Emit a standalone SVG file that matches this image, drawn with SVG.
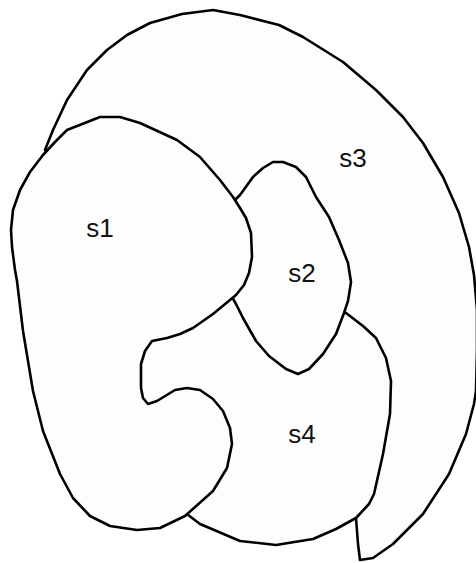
<svg xmlns="http://www.w3.org/2000/svg" width="476" height="563" viewBox="0 0 476 563">
<style>
.set{fill:#fdfdfb;stroke:#000;stroke-width:2.6;stroke-linejoin:round}
.lbl{font-family:"Liberation Sans",Arial,sans-serif;font-size:26px;fill:#111;text-anchor:middle}
</style>
<rect width="476" height="563" fill="#fff"/>
<g id="s3">
<path class="set" d="M60,165 L45,150 L53,130 L67,100 L87,70 L107,50 L127,35 L150,23 L182,14 L213,10 L240,15 L279,25 L303,37 L343,62 L376,90 L403,117 L423,143 L443,177 L459,213 L469,247 L474,275 L477,310 L477,350 L476,391 L474,404 L466,434 L449,474 L423,514 L393,544 L373,558 L360,560 L358,544 L356,518 L350,470 L300,400 L260,340 L220,270 L120,200 Z"/>
<text class="lbl" x="353" y="167">s3</text>
</g>
<g id="s4">
<path class="set" d="M175,505 L200,524 L240,541 L276,545 L313,539 L336,529 L356,518 L369,504 L374,494 L383,454 L390,414 L391,381 L386,358 L376,338 L363,326 L346,313 L320,310 L260,300 L232,292 L200,310 L150,325 L120,370 L120,440 Z"/>
<text class="lbl" x="302" y="443">s4</text>
</g>
<g id="s2">
<path class="set" d="M230,205 L240,195 L253,177 L263,168 L273,162 L283,162 L296,167 L306,177 L316,197 L329,217 L339,240 L348,263 L351,282 L348,301 L344,313 L336,334 L323,354 L309,369 L298,374 L286,369 L269,356 L256,341 L243,318 L236,304 L228,290 L228,220 Z"/>
<text class="lbl" x="302" y="282">s2</text>
</g>
<g id="s1">
<path class="set" d="M100,117 L120,117 L140,123 L177,140 L200,157 L220,180 L233,197 L240,208 L246,218 L251,233 L252,257 L249,273 L244,285 L236,295 L213,314 L193,328 L180,334 L167,338 L152,341 L145,351 L141,364 L141,388 L143,398 L148,404 L157,401 L175,390 L187,388 L200,390 L213,399 L223,411 L230,428 L232,444 L227,468 L213,491 L185,516 L160,528 L137,530 L110,526 L90,516 L73,498 L60,474 L43,431 L33,391 L23,331 L17,281 L15,270 L12,247 L11,230 L13,210 L20,190 L30,172 L43,155 L55,142 L67,130 Z"/>
<text class="lbl" x="100" y="237">s1</text>
</g>
<g id="connectors"/>
</svg>
